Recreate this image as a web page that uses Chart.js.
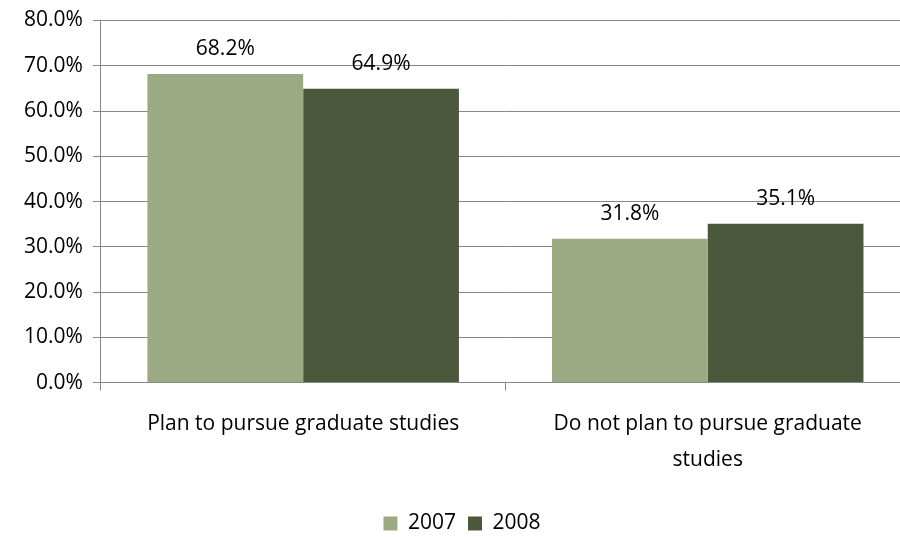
<!DOCTYPE html>
<html>
<head>
<meta charset="utf-8">
<script src="https://cdn.jsdelivr.net/npm/chart.js@4/dist/chart.umd.min.js"></script>
<style>
  html, body { margin: 0; padding: 0; background: #fff; overflow: hidden; }
  #wrap { width: 910px; height: 537px; }
</style>
</head>
<body>
<div id="wrap"><canvas id="chart"></canvas></div>
<script>
// 데이터
const categories = [
  'Plan to pursue graduate studies',
  ['Do not plan to pursue graduate', 'studies'],
];
const years = ['2007', '2008'];
const values2007 = [68.2, 31.8];
const values2008 = [64.9, 35.1];
const yTicks = [0, 10, 20, 30, 40, 50, 60, 70, 80];

const FONT = '"Open Sans", sans-serif';
const FS = 21;
const GRID = '#868686';

// 막대 위 라벨
const barLabels = {
  id: 'barLabels',
  afterDatasetsDraw(chart) {
    const c = chart.ctx;
    c.save();
    c.font = FS + 'px ' + FONT;
    c.fillStyle = '#000';
    c.textAlign = 'center';
    c.textBaseline = 'middle';
    chart.data.datasets.forEach((ds, i) => {
      chart.getDatasetMeta(i).data.forEach((bar, j) => {
        c.fillText(ds.data[j].toFixed(1) + '%', bar.x, bar.y - 25);
      });
    });
    c.restore();
  },
};

// 범례를 조금 아래로
const legendShift = {
  id: 'legendShift',
  afterLayout(chart) {
    const lg = chart.legend;
    lg.top += 7;
    lg.bottom += 7;
    (lg.legendHitBoxes || []).forEach(h => { h.top += 7; });
  },
};

new Chart(document.getElementById('chart'), {
  type: 'bar',
  plugins: [barLabels, legendShift],
  data: {
    labels: categories,
    datasets: [
      { label: years[0], data: values2007, backgroundColor: '#9BAA82' },
      { label: years[1], data: values2008, backgroundColor: '#4B583B' },
    ],
  },
  options: {
    responsive: true,
    maintainAspectRatio: false,
    animation: false,
    barPercentage: 1,
    categoryPercentage: 0.77,
    layout: { padding: { top: -2, left: 14, right: 0, bottom: 0 } },
    plugins: {
      tooltip: { enabled: false },
      legend: {
        position: 'bottom',
        labels: {
          boxWidth: 14,
          boxHeight: 14,
          padding: 12,
          color: '#000',
          font: { family: FONT, size: FS },
        },
      },
    },
    scales: {
      x: {
        grid: { drawOnChartArea: false, drawTicks: true, tickLength: 8, color: GRID },
        border: { color: GRID },
        ticks: {
          color: '#000',
          padding: 16,
          maxRotation: 0,
          font: { family: FONT, size: FS, lineHeight: 1.7 },
        },
      },
      y: {
        min: 0,
        max: 80,
        afterBuildTicks(axis) {
          axis.ticks = yTicks.map(v => ({ value: v }));
        },
        grid: { color: GRID, tickLength: 8 },
        border: { color: GRID },
        ticks: {
          color: '#000',
          padding: 10,
          font: { family: FONT, size: FS, lineHeight: 1 },
          callback: v => v.toFixed(1) + '%',
        },
      },
    },
  },
});
</script>
</body>
</html>
